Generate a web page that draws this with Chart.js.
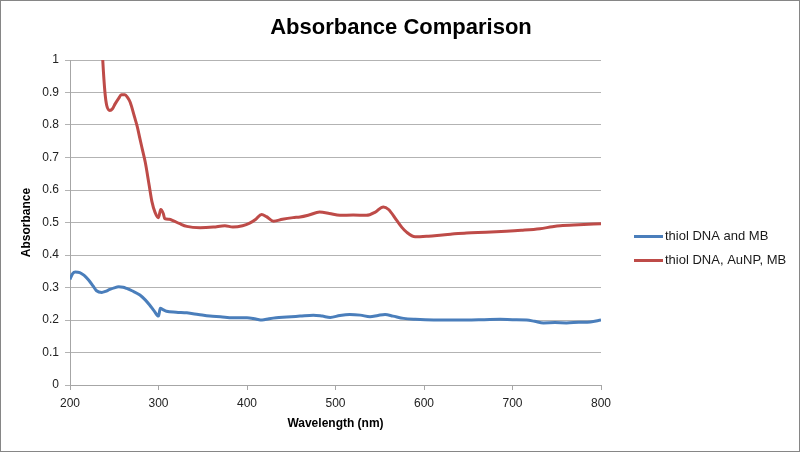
<!DOCTYPE html>
<html>
<head>
<meta charset="utf-8">
<script src="https://cdn.jsdelivr.net/npm/chart.js@4/dist/chart.umd.min.js"></script>
<style>
	html, body { margin: 0; padding: 0; background: #fff; }
	#wrap { width: 800px; height: 452px; position: relative; }
</style>
</head>
<body>
<div id="wrap"><canvas id="chart"></canvas></div>
<script>
const FONT = "'Liberation Sans', Arial, sans-serif";

// thiol DNA and MB
const blueWl = [200, 203, 206, 211, 216, 221, 226, 230, 236, 240, 245, 250, 255, 260, 264, 270, 279, 285, 290, 295, 300, 302, 305, 309, 320, 332, 345, 358, 370, 384, 400, 410, 417, 425, 433, 445, 460, 475, 485, 494, 505, 516, 528, 539, 548, 556, 565, 577, 590, 611, 630, 648, 668, 686, 700, 716, 725, 735, 748, 761, 775, 788, 800];
const blueAbs = [0.325, 0.343, 0.348, 0.346, 0.337, 0.323, 0.305, 0.290, 0.285, 0.288, 0.294, 0.299, 0.302, 0.301, 0.297, 0.290, 0.277, 0.262, 0.246, 0.228, 0.212, 0.236, 0.232, 0.227, 0.224, 0.222, 0.217, 0.212, 0.210, 0.207, 0.207, 0.203, 0.200, 0.204, 0.207, 0.209, 0.212, 0.215, 0.212, 0.208, 0.214, 0.217, 0.215, 0.210, 0.214, 0.217, 0.212, 0.205, 0.202, 0.200, 0.200, 0.200, 0.201, 0.202, 0.201, 0.200, 0.196, 0.191, 0.192, 0.191, 0.193, 0.194, 0.200];

// thiol DNA, AuNP, MB
const redWl = [234.5, 237, 239.5, 241.5, 245, 248, 251, 255, 258, 262, 265, 268, 273, 276, 279, 282, 285, 289.5, 292.5, 296, 300, 302.5, 305.5, 307, 312, 317, 323.5, 332, 347, 362, 375, 384, 395, 403, 410, 416.5, 422, 430, 440, 452, 460, 470, 482, 493, 505, 520, 535, 545, 554, 560, 569, 575, 580, 590, 605, 618, 630, 648, 670, 693, 710, 731, 745, 754, 775, 800];
const redAbs = [1.15, 1.0, 0.90, 0.86, 0.845, 0.850, 0.865, 0.882, 0.893, 0.893, 0.885, 0.870, 0.824, 0.795, 0.758, 0.722, 0.686, 0.614, 0.565, 0.532, 0.515, 0.540, 0.527, 0.512, 0.510, 0.505, 0.497, 0.488, 0.484, 0.486, 0.490, 0.486, 0.490, 0.498, 0.510, 0.525, 0.518, 0.504, 0.510, 0.515, 0.517, 0.523, 0.532, 0.528, 0.522, 0.523, 0.522, 0.532, 0.548, 0.540, 0.507, 0.485, 0.471, 0.456, 0.458, 0.461, 0.464, 0.468, 0.470, 0.473, 0.476, 0.481, 0.487, 0.490, 0.493, 0.496];

const seriesNames = ['thiol DNA and MB', 'thiol DNA, AuNP, MB'];
const seriesColors = ['#4a7ebb', '#be4b48'];

function toPoints(xs, ys) {
	return xs.map((x, i) => ({x: x, y: ys[i]}));
}

// grey frame round the whole chart, like the spreadsheet chart area
const framePlugin = {
	id: 'frame',
	afterDraw(chart) {
		const ctx = chart.ctx;
		ctx.save();
		ctx.strokeStyle = '#868686';
		ctx.lineWidth = 1;
		ctx.strokeRect(0.5, 0.5, chart.width - 1, chart.height - 1);
		ctx.restore();
	}
};

// legend to the right of the plot, line sample + label
const sideLegend = {
	id: 'sideLegend',
	afterDraw(chart) {
		const ctx = chart.ctx;
		const area = chart.chartArea;
		const x0 = area.right + 33;
		const yMid = (area.top + area.bottom) / 2;
		ctx.save();
		ctx.font = '13px ' + FONT;
		ctx.textBaseline = 'middle';
		chart.data.datasets.forEach((ds, i) => {
			const y = yMid + 14 + i * 24;
			ctx.strokeStyle = ds.borderColor;
			ctx.lineWidth = 3;
			ctx.beginPath();
			ctx.moveTo(x0, y);
			ctx.lineTo(x0 + 29, y);
			ctx.stroke();
			ctx.fillStyle = '#1a1a1a';
			ctx.fillText(ds.label, x0 + 31, y);
		});
		ctx.restore();
	}
};

new Chart(document.getElementById('chart'), {
	type: 'scatter',
	data: {
		datasets: [
			{
				label: seriesNames[0],
				data: toPoints(blueWl, blueAbs),
				borderColor: seriesColors[0],
				backgroundColor: seriesColors[0],
				showLine: true,
				borderWidth: 3,
				pointRadius: 0,
				cubicInterpolationMode: 'monotone',
			},
			{
				label: seriesNames[1],
				data: toPoints(redWl, redAbs),
				borderColor: seriesColors[1],
				backgroundColor: seriesColors[1],
				showLine: true,
				borderWidth: 3,
				pointRadius: 0,
				cubicInterpolationMode: 'monotone',
			},
		],
	},
	options: {
		responsive: true,
		maintainAspectRatio: false,
		animation: false,
		layout: {
			padding: {left: 2, right: 0, top: 0, bottom: 0},
		},
		plugins: {
			legend: {display: false},
			tooltip: {enabled: false},
			title: {
				display: true,
				text: 'Absorbance Comparison',
				color: '#000',
				font: {family: FONT, size: 22, weight: 'bold'},
				padding: {top: 15, bottom: 18.6},
			},
		},
		scales: {
			x: {
				type: 'linear',
				min: 200,
				max: 800,
				afterFit: function(scale) { scale.height = 67; },
				ticks: {
					stepSize: 100,
					color: '#222',
					padding: 6,
					font: {family: FONT, size: 12},
				},
				grid: {
					drawOnChartArea: false,
					tickLength: 5,
					color: '#a6a6a6',
				},
				border: {color: '#a6a6a6'},
				title: {
					display: true,
					text: 'Wavelength (nm)',
					color: '#000',
					font: {family: FONT, size: 12, weight: 'bold'},
					padding: {top: 0, bottom: 21},
				},
			},
			y: {
				min: 0,
				max: 1,
				afterFit: function(scale) { scale.width = 68; },
				ticks: {
					stepSize: 0.1,
					color: '#222',
					padding: 6,
					font: {family: FONT, size: 12},
					callback: function(value) { return String(Number(value.toFixed(1))); },
				},
				grid: {
					tickLength: 5,
					color: '#b3b3b3',
				},
				border: {color: '#a6a6a6'},
				title: {
					display: true,
					text: 'Absorbance',
					color: '#000',
					font: {family: FONT, size: 12, weight: 'bold'},
					padding: {top: 17, bottom: 0},
				},
			},
			// empty right-hand box that holds the room for the legend
			legendRoom: {
				type: 'linear',
				position: 'right',
				afterFit: function(scale) { scale.width = 199; },
				ticks: {display: false},
				grid: {display: false},
				border: {display: false},
			},
		},
	},
	plugins: [framePlugin, sideLegend],
});
</script>
</body>
</html>
